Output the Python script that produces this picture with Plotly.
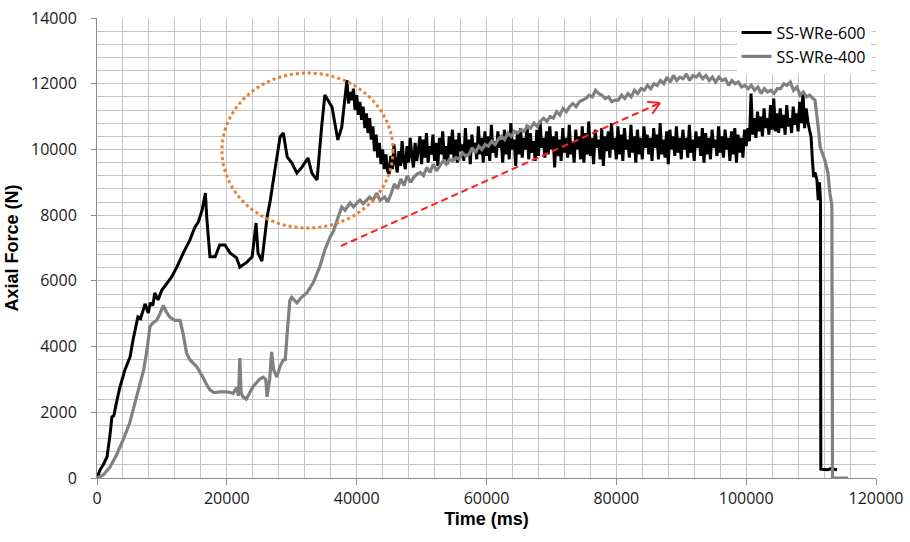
import math
import plotly.graph_objects as go

# ---------------- data ----------------
series_names = ["SS-WRe-600", "SS-WRe-400"]

# SS-WRe-600 (black) : time (ms), axial force (N)
t600_rise = [0, 460, 1000, 1540, 2000, 2300, 2600, 3000, 3540, 4300, 5100, 5550, 6300, 6700, 7100,
             7400, 7900, 8200, 8600, 8900, 9400, 10000, 10800, 11500, 12300, 13300, 14300, 15100,
             15600, 16200, 16700, 16900, 17400, 18200, 18900, 19700, 20500, 21500, 22000, 23100,
             23900, 24500, 24800, 25400, 26200, 26700, 27400, 28200, 28700, 29300, 30000, 30800,
             31600, 32500, 33100, 33900, 34600, 35100, 36200, 37100, 37700, 38500, 38750, 39000,
             39250, 39500, 39750, 40000, 40250, 40500, 40750, 41000, 41250, 41500, 41750, 42000,
             42250, 42500, 42750, 43000, 43250, 43500, 43750, 44000, 44250, 44500, 44750]
f600_rise = [0, 240, 420, 640, 1300, 1860, 1900, 2300, 2770, 3290, 3690, 4200, 4900, 4850, 5100,
             5300, 5020, 5330, 5250, 5630, 5420, 5720, 5930, 6120, 6420, 6850, 7240, 7640,
             7790, 8160, 8670, 7940, 6730, 6730, 7090, 7090, 6850, 6700, 6420, 6570,
             6730, 7760, 6850, 6600, 7940, 8460, 9370, 10380, 10500, 9770, 9590, 9280,
             9470, 9740, 9280, 9070, 10680, 11660, 11290, 10290, 10680, 12110, 11400, 11750,
             11500, 11850, 11200, 11650, 11050, 11450, 10900, 11300, 10650, 11100, 10500, 10950,
             10300, 10700, 9950, 10450, 9750, 10200, 9550, 10000, 9400, 9850, 9350]
t600_plateau = [45000, 45250, 45500, 45750, 46000, 46250, 46500, 46750, 47000, 47250,
                47500, 47750, 48000, 48250, 48500, 48750, 49000, 49250, 49500, 49750,
                50000, 50250, 50500, 50750, 51000, 51250, 51500, 51750, 52000, 52250,
                52500, 52750, 53000, 53250, 53500, 53750, 54000, 54250, 54500, 54750,
                55000, 55250, 55500, 55750, 56000, 56250, 56500, 56750, 57000, 57250,
                57500, 57750, 58000, 58250, 58500, 58750, 59000, 59250, 59500, 59750,
                60000, 60250, 60500, 60750, 61000, 61250, 61500, 61750, 62000, 62250,
                62500, 62750, 63000, 63250, 63500, 63750, 64000, 64250, 64500, 64750,
                65000, 65250, 65500, 65750, 66000, 66250, 66500, 66750, 67000, 67250,
                67500, 67750, 68000, 68250, 68500, 68750, 69000, 69250, 69500, 69750,
                70000, 70250, 70500, 70750, 71000, 71250, 71500, 71750, 72000, 72250,
                72500, 72750, 73000, 73250, 73500, 73750, 74000, 74250, 74500, 74750,
                75000, 75250, 75500, 75750, 76000, 76250, 76500, 76750, 77000, 77250,
                77500, 77750, 78000, 78250, 78500, 78750, 79000, 79250, 79500, 79750,
                80000, 80250, 80500, 80750, 81000, 81250, 81500, 81750, 82000, 82250,
                82500, 82750, 83000, 83250, 83500, 83750, 84000, 84250, 84500, 84750,
                85000, 85250, 85500, 85750, 86000, 86250, 86500, 86750, 87000, 87250,
                87500, 87750, 88000, 88250, 88500, 88750, 89000, 89250, 89500, 89750,
                90000, 90250, 90500, 90750, 91000, 91250, 91500, 91750, 92000, 92250,
                92500, 92750, 93000, 93250, 93500, 93750, 94000, 94250, 94500, 94750,
                95000, 95250, 95500, 95750, 96000, 96250, 96500, 96750, 97000, 97250,
                97500, 97750, 98000, 98250, 98500, 98750, 99000, 99250, 99500, 99750,
                100000, 100250, 100500, 100750, 101000, 101250, 101500, 101750, 102000, 102250,
                102500, 102750, 103000, 103250, 103500, 103750, 104000, 104250, 104500, 104750,
                105000, 105250, 105500, 105750, 106000, 106250, 106500, 106750, 107000, 107250,
                107500, 107750, 108000, 108250, 108500, 108750, 109000, 109250, 109500, 109750]
f600_plateau = [9250, 9800, 9400, 10150, 9600, 9300, 9950, 9500, 10250, 9650,
                9400, 10100, 9600, 10350, 9800, 9450, 10200, 9650, 10000, 10400,
                9550, 10300, 9750, 10500, 9600, 10100, 9850, 10450, 9650, 10200,
                9500, 10350, 9850, 10550, 9700, 10100, 9550, 10400, 9850, 10600,
                9700, 10300, 9600, 10500, 9950, 10150, 9650, 10650, 9800, 10300,
                9550, 10450, 10000, 10200, 9700, 10700, 9850, 10350, 9600, 10550,
                9800, 10400, 9650, 10750, 9900, 10250, 9750, 10550, 10050, 10300,
                9600, 10600, 9850, 10400, 9700, 10800, 10000, 10300, 9500, 10500,
                9850, 10650, 9750, 10350, 10000, 10750, 9700, 10500, 9900, 10250,
                9650, 10600, 9800, 10850, 10050, 10350, 9750, 10550, 9850, 10700,
                10000, 10400, 9450, 10550, 9800, 10300, 9650, 10650, 9900, 10350,
                9750, 10750, 9850, 10250, 9600, 10600, 10000, 10400, 9700, 10700,
                9600, 10500, 9850, 10850, 9800, 10350, 9550, 10600, 10050, 10300,
                9700, 10650, 9500, 10400, 9950, 10550, 9750, 10800, 10000, 10350,
                9700, 10700, 9850, 10450, 9650, 10650, 10000, 10300, 9750, 10750,
                9900, 10400, 9600, 10600, 9850, 10350, 9700, 10700, 10050, 10450,
                9850, 10350, 9650, 10650, 10050, 10450, 9700, 10800, 9850, 10300,
                9750, 10550, 9550, 10600, 10000, 10400, 9800, 10700, 9900, 10350,
                9700, 10600, 10000, 10350, 9750, 10750, 9900, 10300, 9650, 10550,
                10050, 10400, 9800, 10650, 9600, 10500, 9850, 10350, 9700, 10600,
                10050, 10300, 9800, 10700, 9900, 10400, 9750, 10600, 10000, 10350,
                9650, 10550, 9850, 10650, 9600, 10450, 9900, 10350, 9750, 10600,
                10100, 10650, 10250, 11700, 10450, 10950, 10350, 11150, 10550, 11000,
                10400, 11250, 10650, 10950, 10450, 11350, 10600, 11550, 10550, 11100,
                10500, 11250, 10650, 11050, 10450, 11350, 10700, 10950, 10500, 11300,
                10750, 11100, 10550, 11450, 10800, 11750, 10650, 11250, 10850, 10600]
t600_end = [110000, 110200, 110400, 110600, 110900, 111100, 111300, 111450, 111500, 112500, 113000, 114000]
f600_end = [10380, 9680, 9160, 9300, 9070, 8460, 9000, 8400, 270, 250, 280, 250]

# SS-WRe-400 (grey)
t400_rise = [0, 1000, 2000, 3000, 4000, 5000, 6000, 6600, 7200, 7700, 8150, 8500, 9200, 9700,
             10200, 10700, 11200, 12000, 12800, 13250, 13800, 14300, 15400, 16300, 17000, 17400,
             18000, 19000, 20000, 21000, 21500, 21800, 22000, 22200, 22500, 23000, 24000, 25000,
             25600, 26000, 26200, 26600, 26900, 27200, 27700, 28200, 28700, 29000, 29300, 29700,
             30000, 30800, 31500, 32300, 33300, 34300, 35100, 35900, 36400, 37000, 37700, 38200,
             39000, 39500, 40500, 41000, 42000, 42500, 43100, 43600, 44300, 44800]
f400_rise = [0, 100, 330, 700, 1150, 1650, 2400, 2850, 3300, 3900, 4600, 4700, 4800, 5000,
             5250, 5050, 4900, 4800, 4800, 4400, 3800, 3600, 3380, 3070, 2800, 2680,
             2600, 2620, 2620, 2580, 2750, 2500, 3650, 2600, 2470, 2400, 2770, 3000,
             3070, 3000, 2470, 3000, 3840, 3300, 3070, 3400, 3590, 3600, 4410, 5400,
             5500, 5330, 5500, 5630, 5940, 6420, 6940, 7330, 7500, 7850, 8250, 8150,
             8370, 8250, 8460, 8350, 8550, 8450, 8670, 8450, 8550, 8400]
t400_plateau = [45300, 45800, 46300, 46800, 47300, 47800, 48300, 48800, 49300, 49800,
                50300, 50800, 51300, 51800, 52300, 52800, 53300, 53800, 54300, 54800,
                55300, 55800, 56300, 56800, 57300, 57800, 58300, 58800, 59300, 59800,
                60300, 60800, 61300, 61800, 62300, 62800, 63300, 63800, 64300, 64800,
                65300, 65800, 66300, 66800, 67300, 67800, 68300, 68800, 69300, 69800,
                70300, 70800, 71300, 71800, 72300, 72800, 73300, 73800, 74300, 74800,
                75300, 75800, 76300, 76800, 77300, 77800, 78300, 78800, 79300, 79800,
                80300, 80800, 81300, 81800, 82300, 82800, 83300, 83800, 84300, 84800,
                85300, 85800, 86300, 86800, 87300, 87800, 88300, 88800, 89300, 89800,
                90300, 90800, 91300, 91800, 92300, 92800, 93300, 93800, 94300, 94800,
                95300, 95800, 96300, 96800, 97300, 97800, 98300, 98800, 99300, 99800,
                100300, 100800, 101300, 101800, 102300, 102800, 103300, 103800, 104300, 104800,
                105300, 105800, 106300, 106800, 107300, 107800, 108300, 108800, 109300, 109800,
                110300]
f400_plateau = [8650, 8950, 8800, 9100, 8900, 9200, 9000, 9150, 9250, 9300,
                9200, 9450, 9300, 9550, 9350, 9500, 9650, 9550, 9700, 9650,
                9750, 9700, 9900, 9800, 9850, 10050, 9900, 10100, 10000, 10150,
                10100, 10250, 10150, 10300, 10400, 10300, 10500, 10400, 10550, 10500,
                10600, 10550, 10700, 10650, 10800, 10700, 10850, 10950, 10850, 11000,
                10950, 11150, 11050, 11250, 11150, 11300, 11400, 11300, 11450, 11500,
                11550, 11650, 11600, 11800, 11700, 11650, 11550, 11600, 11450, 11500,
                11500, 11650, 11550, 11700, 11600, 11800, 11700, 11850, 11800, 11950,
                11850, 12000, 11950, 12100, 12000, 12200, 12050, 12250, 12100, 12200,
                12150, 12300, 12100, 12250, 12200, 12300, 12150, 12250, 12100, 12200,
                12050, 12200, 12100, 12150, 11950, 12100, 12000, 12050, 11900, 11950,
                11850, 11950, 11800, 11900, 11700, 11850, 11750, 11800, 11700, 11850,
                11850, 12000, 11950, 12050, 11800, 11900, 11650, 11750, 11600, 11650,
                11550]
t400_end = [110600, 111100, 111400, 112100, 112600, 112900, 113200, 113300, 114500, 115700]
f400_end = [11500, 10680, 10070, 9680, 9280, 8670, 8300, 0, 0, 0]

# annotation geometry (data units)
ellipse_box = [19255, 7609, 45600, 12326]        # x0, y0, x1, y1
arrow_from = [37587, 7061]
arrow_to = [86727, 11413]

x_range = [0, 120000]
y_range = [0, 14000]
x_ticks = [0, 20000, 40000, 60000, 80000, 100000, 120000]
y_ticks = [0, 2000, 4000, 6000, 8000, 10000, 12000, 14000]

# ---------------- figure ----------------
W, H = 910, 542
ML, MR, MT, MB = 97, 34, 18, 64

fig = go.Figure()
fig.add_trace(go.Scatter(x=t600_rise + t600_plateau + t600_end,
                         y=f600_rise + f600_plateau + f600_end,
                         mode="lines", name=series_names[0],
                         line=dict(color="#000000", width=3, simplify=False)))
fig.add_trace(go.Scatter(x=t400_rise + t400_plateau + t400_end,
                         y=f400_rise + f400_plateau + f400_end,
                         mode="lines", name=series_names[1],
                         line=dict(color="#808080", width=3.2, simplify=False)))

# orange dotted ellipse
fig.add_shape(type="circle", xref="x", yref="y",
              x0=ellipse_box[0], y0=ellipse_box[1], x1=ellipse_box[2], y1=ellipse_box[3],
              line=dict(color="#ED7D31", width=3, dash="dot"), layer="above")

# red dashed arrow with open head
fig.add_shape(type="line", xref="x", yref="y",
              x0=arrow_from[0], y0=arrow_from[1], x1=arrow_to[0], y1=arrow_to[1],
              line=dict(color="#FF2020", width=2, dash="7px,4px"))
pw = W - ML - MR
ph = H - MT - MB
sx = pw / (x_range[1] - x_range[0])
sy = ph / (y_range[1] - y_range[0])
dxp = (arrow_to[0] - arrow_from[0]) * sx
dyp = (arrow_to[1] - arrow_from[1]) * sy
ang = math.atan2(dyp, dxp)
head = 13
for da in (math.radians(150), math.radians(-150)):
    hx = arrow_to[0] + head * math.cos(ang + da) / sx
    hy = arrow_to[1] + head * math.sin(ang + da) / sy
    fig.add_shape(type="line", xref="x", yref="y",
                  x0=arrow_to[0], y0=arrow_to[1], x1=hx, y1=hy,
                  line=dict(color="#FF2020", width=2))

grid_col = "#c4c4c4"
axis_col = "#8c8c8c"
tick_font = dict(family="Open Sans, Liberation Sans, sans-serif", size=16, color="#1a1a1a")
title_font = dict(family="Liberation Sans, Arial, sans-serif", size=18, color="#000000")

fig.update_layout(
    width=W, height=H,
    margin=dict(l=ML, r=MR, t=MT, b=MB, autoexpand=False),
    paper_bgcolor="white", plot_bgcolor="white",
    showlegend=True,
    legend=dict(x=0.993, y=1.005, xanchor="right", yanchor="top",
                bgcolor="white", borderwidth=0,
                font=dict(family="Open Sans, Liberation Sans, sans-serif", size=16, color="#000000"),
                tracegroupgap=0),
    xaxis=dict(range=x_range, tickvals=x_ticks, ticktext=[str(v) for v in x_ticks],
               showgrid=True, gridcolor=grid_col, gridwidth=1,
               minor=dict(dtick=4000, tick0=0, showgrid=True, gridcolor=grid_col, gridwidth=1, ticks=""),
               showline=True, linecolor=axis_col, linewidth=1,
               ticks="outside", ticklen=6, tickcolor=axis_col,
               zeroline=False, tickfont=tick_font,
               title=dict(text="<b>Time (ms)</b>", font=title_font, standoff=4)),
    yaxis=dict(range=y_range, tickvals=y_ticks, ticktext=[str(v) for v in y_ticks],
               showgrid=True, gridcolor=grid_col, gridwidth=1,
               minor=dict(dtick=400, tick0=0, showgrid=True, gridcolor=grid_col, gridwidth=1, ticks=""),
               showline=True, linecolor=axis_col, linewidth=1,
               ticks="outside", ticklen=5, tickcolor=axis_col,
               zeroline=False, tickfont=tick_font, ticklabelstandoff=11,
               title=dict(text="<b>Axial Force (N)</b>", font=title_font, standoff=7)),
)

fig.write_html("out.html", config={"displayModeBar": False},
               post_script="document.body.style.margin='0';document.body.style.padding='0';")
